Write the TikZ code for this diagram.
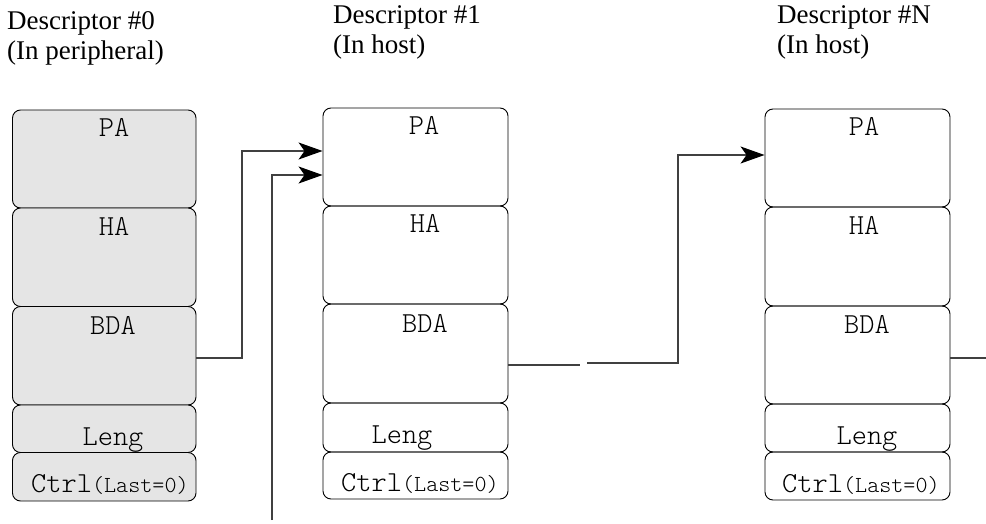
\documentclass[tikz,border=0pt]{standalone}
\usepackage{fontspec}
\setmainfont{Liberation Serif}
\setmonofont{Latin Modern Mono Light}
\usetikzlibrary{fit,arrows.meta}
\begin{document}
\begin{tikzpicture}[x=1pt,y=-1pt,
  cell/.style={draw=black,line width=0.9pt,rounded corners=8pt,inner sep=0pt},
  shaded/.style={cell,fill=black!10},
  field/.style={anchor=base,inner sep=0pt,font=\fontsize{29}{29}\ttfamily},
  ctrlfield/.style={anchor=base west,inner sep=0pt,font=\fontsize{29}{29}\ttfamily},
  heading/.style={anchor=base west,inner sep=0pt,font=\fontsize{27}{27}\selectfont},
  link/.style={draw=black!75,line width=1.2pt},
  arr/.style={link,-{Stealth[length=24pt,width=17pt,inset=6pt,black]}}]
\useasboundingbox (0,0) rectangle (986,524);
\newcommand\smallmono[1]{{\fontsize{23}{23}\selectfont #1}}

% Descriptor #0 (peripheral)
\node[shaded,fit={(12.5,110) (196,208)}]   (pa0) {};
\node[shaded,fit={(12.5,208) (196,306.5)}] (ha0) {};
\node[shaded,fit={(12.5,306.5) (196,405)}] (bda0) {};
\node[shaded,fit={(12.5,405) (196,452.5)}] (len0) {};
\node[shaded,fit={(12.5,452.5) (196,501)}] (ctl0) {};
\node[field] (tpa0) at (114,137) {PA};
\node[field] (tha0) at (114,236) {HA};
\node[field] (tbda0) at (113,334) {BDA};
\node[field] (tlen0) at (113,445) {Leng};
\node[ctrlfield] (tctl0) at (31,492) {Ctrl\smallmono{(Last=0)}};

% Descriptor #1 (host)
\node[cell,fit={(323,108) (508,206)}] (pa1) {};
\node[cell,fit={(323,206) (508,304)}] (ha1) {};
\node[cell,fit={(323,304) (508,403)}] (bda1) {};
\node[cell,fit={(323,403) (508,452)}] (len1) {};
\node[cell,fit={(323,452) (508,499)}] (ctl1) {};
\node[field] (tpa1) at (424,135) {PA};
\node[field] (tha1) at (425,233) {HA};
\node[field] (tbda1) at (425,332) {BDA};
\node[field] (tlen1) at (402,443) {Leng};
\node[ctrlfield] (tctl1) at (341,491) {Ctrl\smallmono{(Last=0)}};

% Descriptor #N (host)
\node[cell,fit={(765,109) (950,207)}] (paN) {};
\node[cell,fit={(765,207) (950,306)}] (haN) {};
\node[cell,fit={(765,306) (950,404)}] (bdaN) {};
\node[cell,fit={(765,404) (950,452)}] (lenN) {};
\node[cell,fit={(765,452) (950,500)}] (ctlN) {};
\node[field] (tpaN) at (864,136) {PA};
\node[field] (thaN) at (864,234) {HA};
\node[field] (tbdaN) at (867,333) {BDA};
\node[field] (tlenN) at (867,444) {Leng};
\node[ctrlfield] (tctlN) at (782,492) {Ctrl\smallmono{(Last=0)}};

% headings
\node[heading] (h0a) at (7,30) {Descriptor \#0};
\node[heading] (h0b) at (7,60) {(In peripheral)};
\node[heading] (h1a) at (333,24) {Descriptor \#1};
\node[heading] (h1b) at (333,54) {(In host)};
\node[heading] (hNa) at (777,24) {Descriptor \#N};
\node[heading] (hNb) at (777,54) {(In host)};

% links between descriptors
\coordinate (in1) at (272,520);
\coordinate (gapA) at (580,365);
\coordinate (gapB) at (587,363);
\coordinate (outN) at (986,358);

\draw[arr] (bda0.east |- 0,358) -| (242,151) -- (pa1.west |- 0,151);
\draw[arr] (in1) |- (pa1.west |- 0,175);
\draw[link] (bda1.east |- 0,365) -- (gapA);
\draw[arr] (gapB) -| (678,155) -- (paN.west |- 0,155);
\draw[link] (bdaN.east |- 0,358) -- (outN);
\end{tikzpicture}
\end{document}
